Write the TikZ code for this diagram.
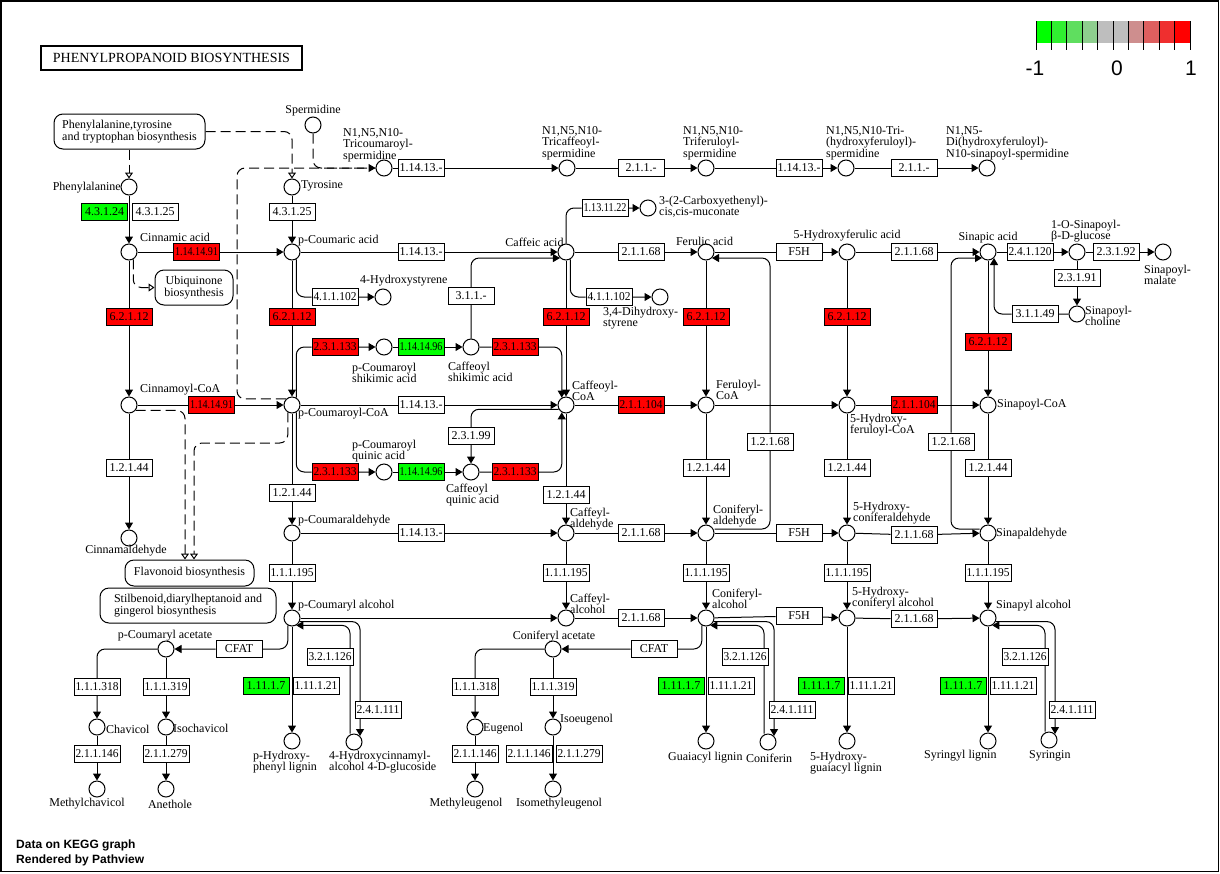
\documentclass[tikz,border=0pt]{standalone}
\usepackage{fontspec}
\usepackage{graphicx}
\setmainfont{Liberation Serif}
\newfontfamily\legendsans{Liberation Sans}
\usetikzlibrary{arrows.meta, backgrounds}
\definecolor{upred}{HTML}{FF0000}
\definecolor{downgreen}{HTML}{00FF00}
\definecolor{scale1}{HTML}{00FF00}
\definecolor{scale2}{HTML}{30EF30}
\definecolor{scale3}{HTML}{5FDE5F}
\definecolor{scale4}{HTML}{8ECE8E}
\definecolor{scale5}{HTML}{BEBEBE}
\definecolor{scale6}{HTML}{BEBEBE}
\definecolor{scale7}{HTML}{CE8E8E}
\definecolor{scale8}{HTML}{DE5F5F}
\definecolor{scale9}{HTML}{EF2F2F}
\definecolor{scale10}{HTML}{FF0000}
\newcommand{\cpdfont}{\fontsize{12}{11.5}\selectfont}
\newsavebox{\ecbox}
% squeeze long EC numbers into the 46px box
\newcommand{\ecnum}[1]{\sbox\ecbox{#1}\ifdim\wd\ecbox>43pt\resizebox{43pt}{\height}{\usebox\ecbox}\else\usebox\ecbox\fi}

\begin{document}
\begin{tikzpicture}[x=1pt, y=-1pt,
  cpd/.style={circle, draw, fill=white, line width=1pt, minimum size=16pt, inner sep=0pt},
  enz/.style={draw, fill=white, line width=1pt, minimum width=46pt, minimum height=17pt,
              inner sep=0pt, font=\cpdfont},
  enzup/.style={enz, fill=upred},
  enzdown/.style={enz, fill=downgreen},
  pmap/.style={draw, fill=white, line width=1pt, rounded corners=9pt, inner sep=0pt,
               align=left, font=\cpdfont},
  lab/.style={inner sep=0pt, align=left, font=\cpdfont},
  link/.style={line width=1pt, rounded corners=8pt},
  flow/.style={link, -{Triangle[length=7pt, width=8pt]}},
  dline/.style={link, dash pattern=on 10pt off 5pt},
  dflow/.style={flow, dash pattern=on 10pt off 5pt},
  maplink/.style={dline, -{Triangle[open, length=6pt, width=8pt]}},
]
\useasboundingbox (0,0) rectangle (1220,873);

\node[draw, line width=2pt, minimum width=261pt, minimum height=24pt, inner sep=0pt,
      font=\fontsize{14}{14}\selectfont] (title) at (171.5,58) {PHENYLPROPANOID BIOSYNTHESIS};

% compounds
\node[cpd] (sperm) at (313,125) {};
\node[cpd] (tcs) at (384,168) {};
\node[cpd] (tcafs) at (567,168) {};
\node[cpd] (tfs) at (706,168) {};
\node[cpd] (thfs) at (846,168) {};
\node[cpd] (dhfs) at (987,168) {};
\node[cpd] (phe) at (129,187) {};
\node[cpd] (tyr) at (292,187) {};
\node[cpd] (cmu) at (648,208) {};
\node[cpd] (cin) at (129,252) {};
\node[cpd] (pcou) at (292,252) {};
\node[cpd] (caf) at (566,252) {};
\node[cpd] (fer) at (706,252) {};
\node[cpd] (hfer) at (847,252) {};
\node[cpd] (sin) at (988,252) {};
\node[cpd] (sglc) at (1077,252) {};
\node[cpd] (smal) at (1163,252) {};
\node[cpd] (hst) at (383,297) {};
\node[cpd] (dhst) at (660,297) {};
\node[cpd] (schol) at (1077,314) {};
\node[cpd] (pcs) at (384,347) {};
\node[cpd] (cafs) at (471,347) {};
\node[cpd] (cinc) at (129,405) {};
\node[cpd] (pcoa) at (292,405) {};
\node[cpd] (cafcoa) at (566,405) {};
\node[cpd] (fercoa) at (706,405) {};
\node[cpd] (hfcoa) at (847,405) {};
\node[cpd] (sincoa) at (988,405) {};
\node[cpd] (pcq) at (384,472) {};
\node[cpd] (cafq) at (471,472) {};
\node[cpd] (cinald) at (129,538) {};
\node[cpd] (pcald) at (292,533) {};
\node[cpd] (cafald) at (566,533) {};
\node[cpd] (conald) at (706,533) {};
\node[cpd] (hconald) at (847,533) {};
\node[cpd] (sinald) at (988,533) {};
\node[cpd] (pcalc) at (292,618) {};
\node[cpd] (cafalc) at (566,618) {};
\node[cpd] (conalc) at (706,618) {};
\node[cpd] (hconalc) at (847,618) {};
\node[cpd] (sinalc) at (988,618) {};
\node[cpd] (pcac) at (166,649) {};
\node[cpd] (conac) at (553,649) {};
\node[cpd] (chav) at (97,727) {};
\node[cpd] (isoch) at (166,727) {};
\node[cpd] (eug) at (475,727) {};
\node[cpd] (isoeug) at (553,727) {};
\node[cpd] (phl) at (292,741) {};
\node[cpd] (hcg) at (354,742) {};
\node[cpd] (gl) at (706,741) {};
\node[cpd] (conif) at (768,742) {};
\node[cpd] (hgl) at (847,741) {};
\node[cpd] (syl) at (988,741) {};
\node[cpd] (syr) at (1049,740) {};
\node[cpd] (mchav) at (97,789) {};
\node[cpd] (aneth) at (166,789) {};
\node[cpd] (meug) at (475,789) {};
\node[cpd] (imeug) at (553,789) {};

% enzymes
\node[enz] (e_tcs) at (421,168) {\ecnum{1.14.13.-}};
\node[enz] (e_tcaf) at (641,168) {\ecnum{2.1.1.-}};
\node[enz] (e_tfs) at (799,168) {\ecnum{1.14.13.-}};
\node[enz] (e_thf) at (914,168) {\ecnum{2.1.1.-}};
\node[enzdown] (e_pal1) at (104.5,211.5) {\ecnum{4.3.1.24}};
\node[enz] (e_pal2) at (155,211.5) {\ecnum{4.3.1.25}};
\node[enz] (e_tal) at (292,211.5) {\ecnum{4.3.1.25}};
\node[enz] (e_mco) at (605,208) {\ecnum{1.13.11.22}};
\node[enzup] (e_c4h1) at (196.5,252) {\ecnum{1.14.14.91}};
\node[enz] (e_c3h1) at (421,252) {\ecnum{1.14.13.-}};
\node[enz] (e_comt1) at (641,252) {\ecnum{2.1.1.68}};
\node[enz] (e_f5h1) at (799,252) {\ecnum{F5H}};
\node[enz] (e_comt2) at (914,252) {\ecnum{2.1.1.68}};
\node[enz] (e_sgt) at (1030,252) {\ecnum{2.4.1.120}};
\node[enz] (e_smt) at (1116,252) {\ecnum{2.3.1.92}};
\node[enz] (e_sct) at (1077,278) {\ecnum{2.3.1.91}};
\node[enz] (e_est) at (471,296) {\ecnum{3.1.1.-}};
\node[enz] (e_pad1) at (335,297) {\ecnum{4.1.1.102}};
\node[enz] (e_pad2) at (609,297) {\ecnum{4.1.1.102}};
\node[enz] (e_sce) at (1035,314) {\ecnum{3.1.1.49}};
\node[enzup] (e_4cl1) at (129,316.5) {\ecnum{6.2.1.12}};
\node[enzup] (e_4cl2) at (292,316.5) {\ecnum{6.2.1.12}};
\node[enzup] (e_4cl3) at (566,317) {\ecnum{6.2.1.12}};
\node[enzup] (e_4cl4) at (706,317) {\ecnum{6.2.1.12}};
\node[enzup] (e_4cl5) at (847,317) {\ecnum{6.2.1.12}};
\node[enzup] (e_4cl6) at (988,342) {\ecnum{6.2.1.12}};
\node[enzup] (e_hct1) at (335,347) {\ecnum{2.3.1.133}};
\node[enzdown] (e_c3h2) at (421,347) {\ecnum{1.14.14.96}};
\node[enzup] (e_hct2) at (515,347) {\ecnum{2.3.1.133}};
\node[enzup] (e_c4h2) at (211.5,405) {\ecnum{1.14.14.91}};
\node[enz] (e_c3h3) at (421,405) {\ecnum{1.14.13.-}};
\node[enzup] (e_ccoa1) at (641,405) {\ecnum{2.1.1.104}};
\node[enzup] (e_ccoa2) at (914,405) {\ecnum{2.1.1.104}};
\node[enz] (e_hqt) at (471,436) {\ecnum{2.3.1.99}};
\node[enz] (e_ald1) at (770,441.5) {\ecnum{1.2.1.68}};
\node[enz] (e_ald2) at (951,441.5) {\ecnum{1.2.1.68}};
\node[enz] (e_ccr1) at (129,468) {\ecnum{1.2.1.44}};
\node[enz] (e_ccr2) at (292,493) {\ecnum{1.2.1.44}};
\node[enz] (e_ccr3) at (566,495) {\ecnum{1.2.1.44}};
\node[enz] (e_ccr4) at (706,468) {\ecnum{1.2.1.44}};
\node[enz] (e_ccr5) at (847,468) {\ecnum{1.2.1.44}};
\node[enz] (e_ccr6) at (988,468) {\ecnum{1.2.1.44}};
\node[enzup] (e_hct3) at (335,472) {\ecnum{2.3.1.133}};
\node[enzdown] (e_c3h4) at (421,472) {\ecnum{1.14.14.96}};
\node[enzup] (e_hct4) at (515,472) {\ecnum{2.3.1.133}};
\node[enz] (e_c3h5) at (421,533) {\ecnum{1.14.13.-}};
\node[enz] (e_comt3) at (641,533) {\ecnum{2.1.1.68}};
\node[enz] (e_f5h2) at (799,533) {\ecnum{F5H}};
\node[enz] (e_comt4) at (914,535) {\ecnum{2.1.1.68}};
\node[enz] (e_cad1) at (292,573) {\ecnum{1.1.1.195}};
\node[enz] (e_cad2) at (566,573) {\ecnum{1.1.1.195}};
\node[enz] (e_cad3) at (706,573) {\ecnum{1.1.1.195}};
\node[enz] (e_cad4) at (847,573) {\ecnum{1.1.1.195}};
\node[enz] (e_cad5) at (988,573) {\ecnum{1.1.1.195}};
\node[enz] (e_comt5) at (641,618) {\ecnum{2.1.1.68}};
\node[enz] (e_f5h3) at (799,616) {\ecnum{F5H}};
\node[enz] (e_comt6) at (914,619) {\ecnum{2.1.1.68}};
\node[enz] (e_cfat1) at (239,649) {\ecnum{CFAT}};
\node[enz] (e_cfat2) at (654,649) {\ecnum{CFAT}};
\node[enz] (e_bglu1) at (330,657) {\ecnum{3.2.1.126}};
\node[enz] (e_bglu2) at (745,657) {\ecnum{3.2.1.126}};
\node[enz] (e_bglu3) at (1025,657) {\ecnum{3.2.1.126}};
\node[enzdown] (e_prx1) at (266,686) {\ecnum{1.11.1.7}};
\node[enz] (e_lac1) at (316,686) {\ecnum{1.11.1.21}};
\node[enzdown] (e_prx2) at (681,686) {\ecnum{1.11.1.7}};
\node[enz] (e_lac2) at (731,686) {\ecnum{1.11.1.21}};
\node[enzdown] (e_prx3) at (821,686) {\ecnum{1.11.1.7}};
\node[enz] (e_lac3) at (871,686) {\ecnum{1.11.1.21}};
\node[enzdown] (e_prx4) at (963,686) {\ecnum{1.11.1.7}};
\node[enz] (e_lac4) at (1013,686) {\ecnum{1.11.1.21}};
\node[enz] (e_eus1) at (97,687) {\ecnum{1.1.1.318}};
\node[enz] (e_ips1) at (166,687) {\ecnum{1.1.1.319}};
\node[enz] (e_eus2) at (475,687) {\ecnum{1.1.1.318}};
\node[enz] (e_ips2) at (553,687) {\ecnum{1.1.1.319}};
\node[enz] (e_ugt1) at (378,710) {\ecnum{2.4.1.111}};
\node[enz] (e_ugt2) at (792,710) {\ecnum{2.4.1.111}};
\node[enz] (e_ugt3) at (1072,710) {\ecnum{2.4.1.111}};
\node[enz] (e_omt1) at (97,754) {\ecnum{2.1.1.146}};
\node[enz] (e_omt2) at (166,754) {\ecnum{2.1.1.279}};
\node[enz] (e_omt3) at (475,754) {\ecnum{2.1.1.146}};
\node[enz] (e_omt4) at (529,754) {\ecnum{2.1.1.146}};
\node[enz] (e_omt5) at (579,754) {\ecnum{2.1.1.279}};

% linked maps
\node[pmap, minimum width=151pt, minimum height=35pt] (m_phe) at (129.5,131.5)
  {Phenylalanine,tyrosine\\and tryptophan biosynthesis};
\node[pmap, minimum width=78pt, minimum height=35pt, align=center] (m_ubi) at (194,287.5)
  {Ubiquinone\\biosynthesis};
\node[pmap, minimum width=129pt, minimum height=26pt] (m_flav) at (189.5,573)
  {Flavonoid biosynthesis};
\node[pmap, minimum width=176pt, minimum height=35pt] (m_stil) at (188,605.5)
  {Stilbenoid,diarylheptanoid and\\gingerol biosynthesis};

% compound names
\node[lab] (l_sperm) at (313,111) {Spermidine};
\node[lab, anchor=west] (l_tcs) at (343,145) {N1,N5,N10-\\Tricoumaroyl-\\spermidine};
\node[lab, anchor=west] (l_tcafs) at (542,143) {N1,N5,N10-\\Tricaffeoyl-\\spermidine};
\node[lab, anchor=west] (l_tfs) at (683,143) {N1,N5,N10-\\Triferuloyl-\\spermidine};
\node[lab, anchor=west] (l_thfs) at (826,143) {N1,N5,N10-Tri-\\(hydroxyferuloyl)-\\spermidine};
\node[lab, anchor=west] (l_dhfs) at (946,143) {N1,N5-\\Di(hydroxyferuloyl)-\\N10-sinapoyl-spermidine};
\node[lab, anchor=east] (l_phe) at (121,188) {Phenylalanine};
\node[lab, anchor=west] (l_tyr) at (301,186) {Tyrosine};
\node[lab, anchor=west] (l_cin) at (140,237) {Cinnamic acid};
\node[lab, anchor=west] (l_pcou) at (298,241) {p-Coumaric acid};
\node[lab, anchor=west] (l_hst) at (360,281) {4-Hydroxystyrene};
\node[lab] (l_caf) at (534.5,242) {Caffeic acid};
\node[lab, anchor=west] (l_cmu) at (659,207) {3-(2-Carboxyethenyl)-\\cis,cis-muconate};
\node[lab, anchor=west] (l_dhst) at (603,318) {3,4-Dihydroxy-\\styrene};
\node[lab] (l_fer) at (704.5,241) {Ferulic acid};
\node[lab] (l_hfer) at (847,236) {5-Hydroxyferulic acid};
\node[lab] (l_sin) at (988,238) {Sinapic acid};
\node[lab, anchor=west] (l_sglc) at (1051,231) {1-O-Sinapoyl-\\β-D-glucose};
\node[lab, anchor=west] (l_smal) at (1144,275) {Sinapoyl-\\malate};
\node[lab, anchor=west] (l_schol) at (1085,316) {Sinapoyl-\\choline};
\node[lab, anchor=west] (l_cinc) at (140,390) {Cinnamoyl-CoA};
\node[lab, anchor=west] (l_pcoa) at (298,414) {p-Coumaroyl-CoA};
\node[lab, anchor=west] (l_pcs) at (352,373) {p-Coumaroyl\\shikimic acid};
\node[lab, anchor=west] (l_cafs) at (448,372) {Caffeoyl\\shikimic acid};
\node[lab, anchor=west] (l_pcq) at (352,451) {p-Coumaroyl\\quinic acid};
\node[lab, anchor=west] (l_cafq) at (446,495) {Caffeoyl\\quinic acid};
\node[lab, anchor=west] (l_cafcoa) at (572,391) {Caffeoyl-\\CoA};
\node[lab, anchor=west] (l_fercoa) at (716,390) {Feruloyl-\\CoA};
\node[lab, anchor=west] (l_hfcoa) at (850,425) {5-Hydroxy-\\feruloyl-CoA};
\node[lab, anchor=west] (l_sincoa) at (997,405) {Sinapoyl-CoA};
\node[lab] (l_cinald) at (126,551) {Cinnamaldehyde};
\node[lab, anchor=west] (l_pcald) at (298,521) {p-Coumaraldehyde};
\node[lab, anchor=west] (l_cafald) at (570,519) {Caffeyl-\\aldehyde};
\node[lab, anchor=west] (l_conald) at (713,516) {Coniferyl-\\aldehyde};
\node[lab, anchor=west] (l_hconald) at (853,513) {5-Hydroxy-\\coniferaldehyde};
\node[lab, anchor=west] (l_sinald) at (996,534) {Sinapaldehyde};
\node[lab, anchor=west] (l_pcalc) at (298,606) {p-Coumaryl alcohol};
\node[lab, anchor=west] (l_cafalc) at (570,604) {Caffeyl-\\alcohol};
\node[lab, anchor=west] (l_conalc) at (712,599) {Coniferyl-\\alcohol};
\node[lab, anchor=west] (l_hconalc) at (852,598) {5-Hydroxy-\\coniferyl alcohol};
\node[lab, anchor=west] (l_sinalc) at (996,606) {Sinapyl alcohol};
\node[lab] (l_pcac) at (165,636) {p-Coumaryl acetate};
\node[lab] (l_conac) at (554,637) {Coniferyl acetate};
\node[lab, anchor=west] (l_chav) at (106,729) {Chavicol};
\node[lab, anchor=west] (l_isoch) at (173,728) {Isochavicol};
\node[lab, anchor=west] (l_eug) at (483,729) {Eugenol};
\node[lab, anchor=west] (l_isoeug) at (560,720) {Isoeugenol};
\node[lab] (l_mchav) at (87,804) {Methylchavicol};
\node[lab] (l_aneth) at (170,804) {Anethole};
\node[lab] (l_meug) at (466,804) {Methyleugenol};
\node[lab] (l_imeug) at (559,804) {Isomethyleugenol};
\node[lab, anchor=west] (l_phl) at (253,762) {p-Hydroxy-\\phenyl lignin};
\node[lab, anchor=west] (l_hcg) at (329,762) {4-Hydroxycinnamyl-\\alcohol 4-D-glucoside};
\node[lab, anchor=west] (l_gl) at (668,758) {Guaiacyl lignin};
\node[lab, anchor=west] (l_conif) at (746,758) {Coniferin};
\node[lab, anchor=west] (l_hgl) at (810,763) {5-Hydroxy-\\guaiacyl lignin};
\node[lab, anchor=west] (l_syl) at (924,756) {Syringyl lignin};
\node[lab, anchor=west] (l_syr) at (1029,756) {Syringin};

\coordinate (dcorner) at (237,168);
\coordinate (fbend) at (240,443);

\begin{scope}[on background layer]
\fill[white] (0,0) rectangle (1220,873);
\draw[line width=1.5pt] (0.75,0.75) rectangle (1218.25,871.25);

% map links
\draw[maplink] (m_phe.south -| phe) -- (phe);
\draw[maplink] (m_phe.east) -| (tyr);
\draw[maplink] (cin.-60) |- (m_ubi.west);
\draw[maplink] (cinc.-40) -| ([xshift=-4.5pt]m_flav.north);
\draw[maplink] (pcoa.-120) |- (fbend) -| ([xshift=4.5pt]m_flav.north);

% spermidine conjugates
\draw[dflow] (sperm) |- (tcs);
\draw[dline] (pcoa.north west) -| (dcorner) -- (tcs.west);
\draw[flow] (tcs) -- (e_tcs) -- (tcafs);
\draw[flow] (tcafs) -- (e_tcaf) -- (tfs);
\draw[flow] (tfs) -- (e_tfs) -- (thfs);
\draw[flow] (thfs) -- (e_thf) -- (dhfs);

% acids
\draw[flow] (phe) -- (cin);
\draw[flow] (tyr) -- (e_tal) -- (pcou);
\draw[flow] (cin) -- (e_c4h1) -- (pcou);
\draw[flow] (pcou) -- (e_c3h1) -- (caf);
\draw[flow] (pcou.-60) |- (e_pad1) -- (hst);
\draw[flow] (caf.north) |- (e_mco) -- (cmu);
\draw[flow] (caf.-60) |- (e_pad2) -- (dhst);
\draw[flow] (caf) -- (e_comt1) -- (fer);
\draw[flow] (fer) -- (e_f5h1) -- (hfer);
\draw[flow] (hfer) -- (e_comt2) -- (sin);
\draw[flow] (sin) -- (e_sgt) -- (sglc);
\draw[flow] (sglc) -- (e_smt) -- (smal);
\draw[flow] (sglc) -- (e_sct) -- (schol);
\draw[flow] (schol) -- (e_sce) -| (sin.south east);

% CoA esters
\draw[flow] (cin) -- (e_4cl1) -- (cinc);
\draw[flow] (pcou) -- (e_4cl2) -- (pcoa);
\draw[flow] (caf) -- (e_4cl3) -- (cafcoa);
\draw[flow] (fer) -- (e_4cl4) -- (fercoa);
\draw[flow] (hfer) -- (e_4cl5) -- (hfcoa);
\draw[flow] (sin) -- (e_4cl6) -- (sincoa);
\draw[flow] (cinc) -- (e_c4h2) -- (pcoa);
\draw[flow] (pcoa.60) |- (e_hct1) -- (pcs);
\draw[flow] (pcs) -- (e_c3h2) -- (cafs);
\draw[flow] (cafs) -- (e_est) |- (caf.south west);
\draw[flow] (cafs) -- (e_hct2) -| (cafcoa.120);
\draw[flow] (pcoa.-60) |- (e_hct3) -- (pcq);
\draw[flow] (pcq) -- (e_c3h4) -- (cafq);
\draw[flow] (cafq) -- (e_hct4) -| (cafcoa.-120);
\draw[flow] (cafcoa.-150) -| (e_hqt) -- (cafq);
\draw[flow] (pcoa) -- (e_c3h3) -- (cafcoa);
\draw[flow] (cafcoa) -- (e_ccoa1) -- (fercoa);
\draw[flow] (fercoa) -- (hfcoa);
\draw[flow] (hfcoa) -- (e_ccoa2) -- (sincoa);

% aldehydes
\draw[flow] (cinc) -- (e_ccr1) -- (cinald);
\draw[flow] (pcoa) -- (e_ccr2) -- (pcald);
\draw[flow] (cafcoa) -- (e_ccr3) -- (cafald);
\draw[flow] (fercoa) -- (e_ccr4) -- (conald);
\draw[flow] (hfcoa) -- (e_ccr5) -- (hconald);
\draw[flow] (sincoa) -- (e_ccr6) -- (sinald);
\draw[flow] (pcald) -- (e_c3h5) -- (cafald);
\draw[flow] (cafald) -- (e_comt3) -- (conald);
\draw[flow] (conald) -- (e_f5h2) -- (hconald);
\draw[flow] (hconald) -- (e_comt4) -- (sinald);
\draw[flow] ([yshift=4pt]conald.east) -| (e_ald1) |- (fer.south east);
\draw[flow] ([yshift=4pt]sinald.west) -| (e_ald2) |- (sin.south west);

% alcohols
\draw[flow] (pcald) -- (e_cad1) -- (pcalc);
\draw[flow] (cafald) -- (e_cad2) -- (cafalc);
\draw[flow] (conald) -- (e_cad3) -- (conalc);
\draw[flow] (hconald) -- (e_cad4) -- (hconalc);
\draw[flow] (sinald) -- (e_cad5) -- (sinalc);
\draw[flow] (pcalc) -- (cafalc);
\draw[flow] (cafalc) -- (e_comt5) -- (conalc);
\draw[flow] (conalc) -- (e_f5h3) -- (hconalc);
\draw[flow] (hconalc) -- (e_comt6) -- (sinalc);

% lignins and glucosides
\draw[flow] (pcalc) -- (phl);
\draw[flow] (conalc) -- (gl);
\draw[flow] (hconalc) -- (hgl);
\draw[flow] (sinalc) -- (syl);
\draw[flow] (pcalc.-25) -| (hcg.north east);
\draw[flow] ([xshift=-4pt]hcg.north) |- (pcalc.-60);
\draw[flow] (conalc.-25) -| (conif.north east);
\draw[flow] ([xshift=-4pt]conif.north) |- (conalc.-60);
\draw[flow] (sinalc.-25) -| (syr.north east);
\draw[flow] ([xshift=-4pt]syr.north) |- (sinalc.-60);

% phenylpropenes
\draw[flow] (pcalc.-120) |- (e_cfat1) -- (pcac);
\draw[flow] (pcac) -| (e_eus1) -- (chav);
\draw[flow] (pcac) -- (e_ips1) -- (isoch);
\draw[flow] (chav) -- (e_omt1) -- (mchav);
\draw[flow] (isoch) -- (e_omt2) -- (aneth);
\draw[flow] (conalc.-120) |- (e_cfat2) -- (conac);
\draw[flow] (conac) -| (e_eus2) -- (eug);
\draw[flow] (conac) -- (e_ips2) -- (isoeug);
\draw[flow] (eug) -- (e_omt3) -- (meug);
\draw[flow] (isoeug) -- (imeug);
\end{scope}

% colour key
\foreach \col [count=\i from 0] in {scale1,scale2,scale3,scale4,scale5,scale6,scale7,scale8,scale9,scale10}
  \fill[\col] (1036+15.4*\i,21) rectangle ++(15.4,22);
\foreach \i in {0,...,10}
  \draw[line width=1pt] (1036+15.4*\i,21) -- ++(0,29);
\node[font=\legendsans\fontsize{21}{21}\selectfont, inner sep=0pt] (key_lo) at (1035,68) {-1};
\node[font=\legendsans\fontsize{21}{21}\selectfont, inner sep=0pt] (key_mid) at (1117,68) {0};
\node[font=\legendsans\fontsize{21}{21}\selectfont, inner sep=0pt] (key_hi) at (1191,68) {1};

\node[anchor=west, align=left, inner sep=0pt, font=\legendsans\bfseries\fontsize{12}{15}\selectfont]
  (credit) at (16,853) {Data on KEGG graph\\Rendered by Pathview};
\end{tikzpicture}
\end{document}
